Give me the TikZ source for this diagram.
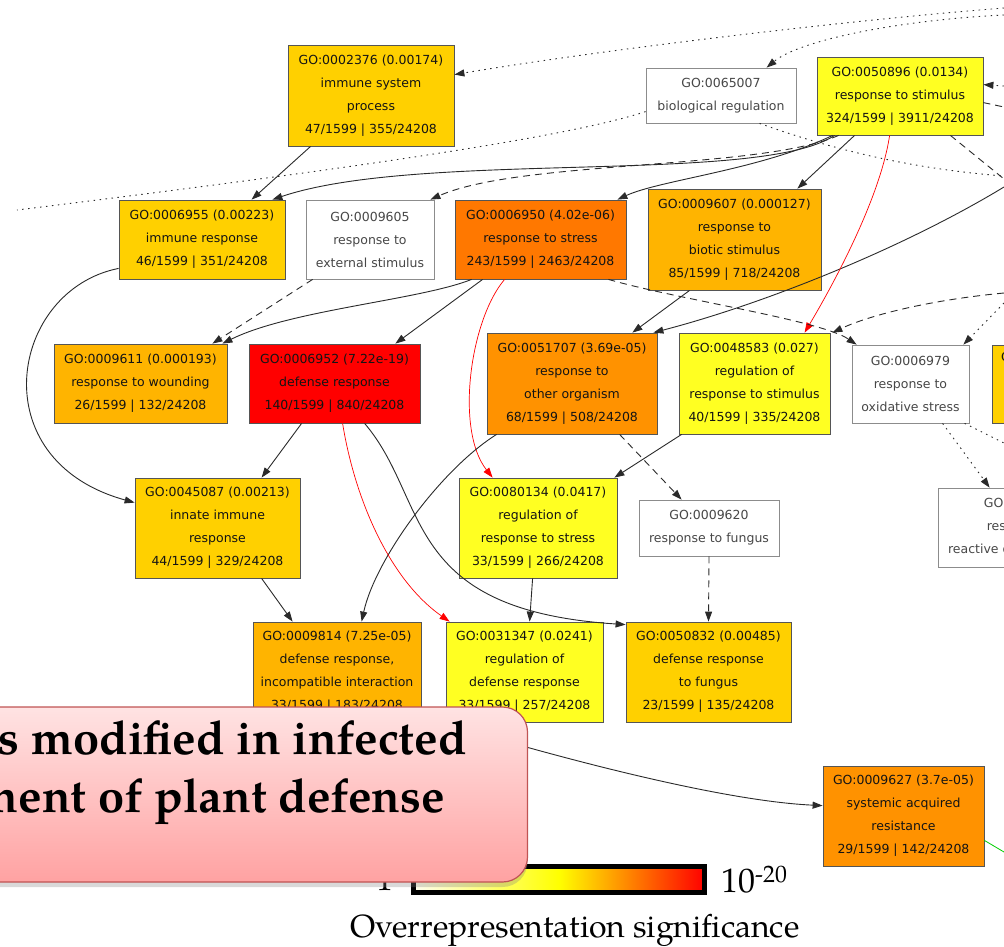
\documentclass[tikz,border=0pt]{standalone}
\usepackage{fontspec}
\newfontfamily\gofont{DejaVu Sans}
\newfontfamily\palfont{texgyrepagella}[Extension=.otf,UprightFont=*-regular,BoldFont=*-bold]
\usetikzlibrary{arrows.meta,calc,shadows}
\definecolor{gogold}{HTML}{FFD000}
\definecolor{goamber}{HTML}{FFB400}
\definecolor{goorange}{HTML}{FF9200}
\definecolor{godark}{HTML}{FF7800}
\definecolor{gored}{HTML}{FF0000}
\definecolor{goyellow}{HTML}{FFFF22}
\definecolor{boxline}{HTML}{555555}
\definecolor{edgegray}{HTML}{2A2A2A}
\definecolor{callouttop}{HTML}{FFE3E3}
\definecolor{calloutbot}{HTML}{FFA2A2}
\definecolor{calloutline}{HTML}{C05454}
\begin{document}
\begin{tikzpicture}[x=1pt, y=-1pt, >={Triangle[length=10pt,width=7pt]},
  goterm/.style={shape=rectangle, draw=boxline, line width=0.8pt, align=center, inner sep=0pt,
    text=black!92, font=\gofont\fontsize{12.5}{23}\selectfont},
  goplain/.style={goterm, fill=white, draw=gray!90, text=black!72},
  isa/.style={->, draw=edgegray, line width=0.9pt},
  partof/.style={isa, dash pattern=on 7pt off 5pt},
  regulates/.style={isa, dash pattern=on 1.5pt off 4.5pt},
  sigpath/.style={->, draw=red, line width=0.7pt},
  callout text/.style={anchor=base east, inner sep=0pt, font=\palfont\bfseries\fontsize{47}{56}\selectfont},
  legend text/.style={inner sep=0pt, font=\palfont\fontsize{34}{40}\selectfont}]
\useasboundingbox (0,0) rectangle (1004,946);
\clip (0,0) rectangle (1004,946);

% GO terms
\node (isp) at (371,95.5) [goterm, fill=gogold, minimum width=166pt, minimum height=101pt]
  {GO:0002376 (0.00174)\\immune system\\process\\47/1599 | 355/24208};
\node (bioreg) at (721,95.5) [goplain, minimum width=150pt, minimum height=55pt]
  {GO:0065007\\biological regulation};
\node (stim) at (900,96) [goterm, fill=goyellow, minimum width=166pt, minimum height=78pt]
  {GO:0050896 (0.0134)\\response to stimulus\\324/1599 | 3911/24208};
\node (immresp) at (202,239.5) [goterm, fill=gogold, minimum width=166pt, minimum height=79pt]
  {GO:0006955 (0.00223)\\immune response\\46/1599 | 351/24208};
\node (extstim) at (370,239.5) [goplain, minimum width=128pt, minimum height=79pt]
  {GO:0009605\\response to\\external stimulus};
\node (stress) at (540.5,239.5) [goterm, fill=godark, minimum width=171pt, minimum height=79pt]
  {GO:0006950 (4.02e-06)\\response to stress\\243/1599 | 2463/24208};
\node (biotic) at (734.5,239.5) [goterm, fill=goamber, minimum width=173pt, minimum height=101pt]
  {GO:0009607 (0.000127)\\response to\\biotic stimulus\\85/1599 | 718/24208};
\node (wound) at (140.5,383.5) [goterm, fill=goamber, minimum width=173pt, minimum height=79pt]
  {GO:0009611 (0.000193)\\response to wounding\\26/1599 | 132/24208};
\node (defense) at (334.5,383.5) [goterm, fill=gored, minimum width=171pt, minimum height=79pt]
  {GO:0006952 (7.22e-19)\\defense response\\140/1599 | 840/24208};
\node (organism) at (572,383.5) [goterm, fill=goorange, minimum width=170pt, minimum height=101pt]
  {GO:0051707 (3.69e-05)\\response to\\other organism\\68/1599 | 508/24208};
\node (regstim) at (754.5,383.5) [goterm, fill=goyellow, minimum width=151pt, minimum height=101pt]
  {GO:0048583 (0.027)\\regulation of\\response to stimulus\\40/1599 | 335/24208};
\node (oxid) at (910.5,384) [goplain, minimum width=117pt, minimum height=78pt]
  {GO:0006979\\response to\\oxidative stress};
\node (partgold) at (1062,384) [goterm, fill=gogold, minimum width=140pt, minimum height=78pt] {};
\node (partgoldid) at (1001,357) [anchor=west, inner sep=0pt, text=black!92, font=\gofont\fontsize{12.5}{23}\selectfont] {GO};
\node (ros) at (1023.5,527.5) [goplain, minimum width=171pt, minimum height=79pt]
  {GO:0000302\\response to\\reactive oxygen species};
\node (innate) at (217.5,528) [goterm, fill=gogold, minimum width=165pt, minimum height=100pt]
  {GO:0045087 (0.00213)\\innate immune\\response\\44/1599 | 329/24208};
\node (regstress) at (538,528) [goterm, fill=goyellow, minimum width=158pt, minimum height=100pt]
  {GO:0080134 (0.0417)\\regulation of\\response to stress\\33/1599 | 266/24208};
\node (fungus) at (709,528) [goplain, minimum width=140pt, minimum height=56pt]
  {GO:0009620\\response to fungus};
\node (incompat) at (337,672) [goterm, fill=goamber, minimum width=168pt, minimum height=100pt]
  {GO:0009814 (7.25e-05)\\defense response,\\incompatible interaction\\33/1599 | 183/24208};
\node (regdef) at (524.5,672) [goterm, fill=goyellow, minimum width=157pt, minimum height=100pt]
  {GO:0031347 (0.0241)\\regulation of\\defense response\\33/1599 | 257/24208};
\node (deffungus) at (708.5,672) [goterm, fill=gogold, minimum width=165pt, minimum height=100pt]
  {GO:0050832 (0.00485)\\defense response\\to fungus\\23/1599 | 135/24208};
\node (sar) at (903.5,816) [goterm, fill=goorange, minimum width=161pt, minimum height=100pt]
  {GO:0009627 (3.7e-05)\\systemic acquired\\resistance\\29/1599 | 142/24208};

% ends of edges that leave the picture
\coordinate (outTopA) at (1004,8);
\coordinate (outTopB) at (1004,15);
\coordinate (outLeft) at (17,210);
\coordinate (outRightA) at (1004,86);
\coordinate (outRightB) at (1004,107);
\coordinate (outRightC) at (1004,176);
\coordinate (outRightD) at (1004,179);
\coordinate (outRightE) at (1004,187);
\coordinate (outRightF) at (1004,293);
\coordinate (outRightG) at (1004,303);
\coordinate (outRightH) at (1004,443);
\coordinate (outRightI) at (1004,852);

% edges
\draw [regulates] (outTopA) .. controls (850,20) and (600,50) .. ($(isp.north east)+(0,30)$);
\draw [regulates] (outTopB) .. controls (900,20) and (800,40) .. ($(bioreg.north west)+(121,0)$);
\draw [regulates, -] ($(bioreg.north west)+(0,44)$) .. controls (560,140) and (300,175) .. (outLeft);
\draw [regulates, -] ($(bioreg.south west)+(114,0)$) .. controls (820,145) and (900,168) .. (outRightC);
\draw [regulates] (outRightA) -- ($(stim.north east)+(0,28)$);
\draw [partof, -] ($(stim.north east)+(0,46)$) -- (outRightB);
\draw [partof, -] ($(stim.south east)+(-33,0)$) -- (outRightD);
\draw [isa] (outRightE) .. controls (900,250) and (760,305) .. ($(organism.north east)+(-4,0)$);
\draw [isa] ($(stim.south west)+(18,0)$) .. controls (760,185) and (420,150) .. ($(immresp.north east)+(-13,0)$);
\draw [partof] ($(stim.south west)+(22,0)$) .. controls (760,170) and (520,160) .. ($(extstim.north east)+(-4,0)$);
\draw [isa] ($(stim.south west)+(16,0)$) .. controls (760,170) and (660,180) .. ($(stress.north east)+(-9,0)$);
\draw [isa] ($(stim.south west)+(38,0)$) -- ($(biotic.north east)+(-24,0)$);
\draw [sigpath] ($(stim.south west)+(73,0)$) .. controls (880,200) and (830,290) .. ($(regstim.north west)+(126,0)$);
\draw [isa] ($(isp.south west)+(23,0)$) -- ($(immresp.north west)+(133,0)$);
\draw [isa] ($(immresp.south west)+(0,-11)$) .. controls (10,290) and (-20,460) .. ($(innate.north west)+(0,25)$);
\draw [partof] ($(extstim.south west)+(7,0)$) -- ($(wound.north east)+(-15,0)$);
\draw [isa] ($(stress.south west)+(17,0)$) .. controls (420,300) and (290,310) .. ($(wound.north east)+(-5,0)$);
\draw [isa] ($(stress.south west)+(28,0)$) -- ($(defense.north east)+(-25,0)$);
\draw [sigpath] ($(stress.south west)+(50,0)$) .. controls (470,320) and (455,430) .. ($(regstress.north west)+(34,0)$);
\draw [partof] ($(stress.south east)+(-18,0)$) .. controls (680,300) and (820,320) .. ($(oxid.north west)+(5,0)$);
\draw [isa] ($(biotic.south west)+(42,0)$) -- ($(organism.north east)+(-25,0)$);
\draw [partof] (outRightF) .. controls (930,300) and (870,315) .. ($(regstim.north east)+(2,0)$);
\draw [regulates] (outRightG) -- ($(oxid.north east)+(-6,0)$);
\draw [partof] ($(organism.south west)+(133,0)$) -- ($(fungus.north west)+(43,0)$);
\draw [isa] ($(organism.south west)+(10,0)$) .. controls (440,470) and (375,560) .. ($(incompat.north west)+(109,0)$);
\draw [isa] ($(regstim.south west)+(3,0)$) -- ($(regstress.north east)+(-3,0)$);
\draw [isa] ($(defense.south west)+(53,0)$) -- ($(innate.north west)+(127,0)$);
\draw [sigpath] ($(defense.south west)+(94,0)$) .. controls (355,500) and (390,580) .. ($(regdef.north west)+(4,0)$);
\draw [isa] ($(defense.south west)+(116,0)$) .. controls (430,500) and (400,610) .. ($(deffungus.north west)+(0,3)$);
\draw [isa] ($(innate.south west)+(127,0)$) -- ($(incompat.north west)+(40,0)$);
\draw [isa] ($(regstress.south west)+(74,0)$) -- ($(regdef.north west)+(84,0)$);
\draw [partof] (fungus.south) -- (deffungus.north);
\draw [isa] ($(incompat.south east)+(-5,-8)$) .. controls (480,735) and (700,800) .. ($(sar.north west)+(0,40)$);
\draw [green!80!black, line width=0.8pt] ($(sar.south east)+(0,-26)$) -- (outRightI);
\draw [regulates] ($(oxid.south west)+(91,0)$) -- ($(ros.north west)+(52,0)$);
\draw [regulates, -] ($(oxid.south west)+(113,0)$) -- (outRightH);

% colour scale
\node (legmin) at (394,890) [legend text, anchor=base east] {1};
\node (legbar) at (559,879.5) [draw=black, line width=5pt, minimum width=291pt, minimum height=26pt,
  left color=yellow!6, right color=red, middle color=yellow] {};
\node (legmax) at (721,892) [legend text, anchor=base west] {10\textsuperscript{-20}};
\node (legtitle) at (575,937) [anchor=base, inner sep=0pt, font=\palfont\fontsize{32}{36}\selectfont]
  {Overrepresentation significance};

% callout
\node (callout) at (243.5,794.5) [shape=rectangle, rounded corners=25pt, draw=calloutline, line width=1.2pt,
  top color=callouttop, bottom color=calloutbot, minimum width=568pt, minimum height=175pt,
  drop shadow={opacity=0.3, shadow xshift=0pt, shadow yshift=-5pt}] {};
\node (calloutA) at (467,754) [callout text] {s modified in infected};
\node (calloutB) at (445,812) [callout text] {ment of plant defense};
\end{tikzpicture}
\end{document}
